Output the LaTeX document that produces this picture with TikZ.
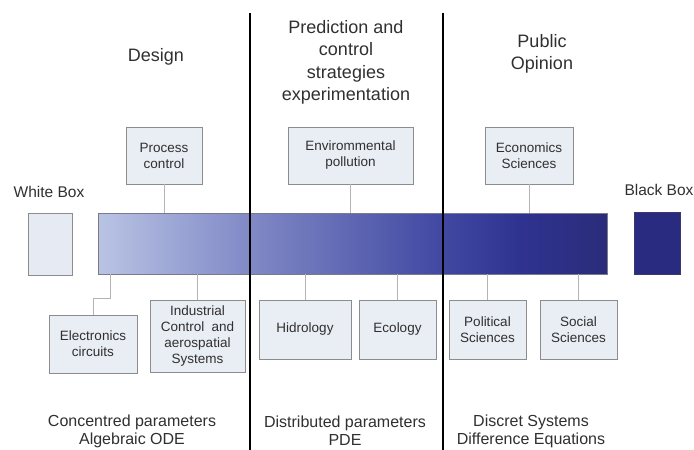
\documentclass[tikz,border=0pt]{standalone}
\usepackage{fontspec}
\setmainfont{Liberation Sans}
\usetikzlibrary{shadows}
\definecolor{boxfill}{HTML}{E9EDF4}
\definecolor{boxline}{HTML}{8C8C8C}
\definecolor{txt}{HTML}{303030}
\definecolor{linkc}{HTML}{B4B4B4}
\definecolor{barline}{HTML}{7A7A8A}
\definecolor{wbfill}{HTML}{E6EAF3}
\definecolor{bbfill}{HTML}{292B80}
\definecolor{bbline}{HTML}{3A3A6A}
\definecolor{cA}{HTML}{B9C4E4}
\definecolor{cB}{HTML}{8189C6}
\definecolor{cC}{HTML}{4048A2}
\definecolor{cD}{HTML}{2F3390}
\definecolor{cE}{HTML}{2A2C7A}
\pgfdeclarehorizontalshading{barshade}{100bp}{color(0bp)=(cA); color(25bp)=(cA); color(39.9bp)=(cB); color(58.8bp)=(cC); color(66.3bp)=(cD); color(75bp)=(cE); color(100bp)=(cE)}
\begin{document}
\begin{tikzpicture}[x=1pt,y=-1pt,
  catbox/.style={draw=boxline, line width=0.9pt, fill=boxfill, inner sep=0pt, align=center,
    font=\fontsize{13.5}{16}\selectfont, text=txt,
    drop shadow={shadow xshift=1.2pt, shadow yshift=-1.2pt, opacity=0.25}},
  title/.style={font=\fontsize{18}{22.5}\selectfont, text=txt, align=center},
  foot/.style={font=\fontsize{16}{18}\selectfont, text=txt, align=center},
  sidelbl/.style={font=\fontsize{15.5}{18}\selectfont, text=txt},
  link/.style={draw=linkc, line width=0.8pt},
  divider/.style={draw=black, line width=1.7pt}]
\useasboundingbox (0,0) rectangle (694,450);
\fill[white] (0,0) rectangle (694,450);

% titles
\node[title] (tdesign) at (156,57) {Design};
\node[title] (tpred) at (346,62.5) {Prediction and\\control\\strategies\\experimentation};
\node[title] (tpub) at (542,54) {Public\\Opinion};

% side labels
\node[sidelbl] (lwhite) at (49,192) {White Box};
\node[sidelbl] (lblack) at (659,190) {Black Box};

% main bar
\node[draw=barline, line width=0.8pt, shade, shading=barshade, minimum width=509pt, minimum height=61pt, inner sep=0pt] (bar) at (352.5,243.5) {};

% white / black boxes
\node[draw=boxline, line width=0.9pt, fill=wbfill, minimum width=44pt, minimum height=62pt, inner sep=0pt] (wbox) at (50,244) {};
\node[draw=bbline, line width=0.9pt, fill=bbfill, minimum width=46pt, minimum height=62pt, inner sep=0pt] (bbox) at (657,243.5) {};

% category boxes
\node[catbox, minimum width=76pt, minimum height=57pt] (pc) at (164,155.5) {Process\\control};
\node[catbox, minimum width=88pt, minimum height=58pt] (ec) at (93,344) {Electronics\\circuits};
\node[catbox, minimum width=95pt, minimum height=72pt] (ic) at (197.5,336) {Industrial\\Control\hspace{0.55em}and\\aerospatial\\Systems};
\node[catbox, minimum width=125pt, minimum height=57pt] (ep) at (350.5,155.5) {Envirommental\\pollution};
\node[catbox, minimum width=92pt, minimum height=59pt] (hi) at (305,329.5) {Hidrology};
\node[catbox, minimum width=77pt, minimum height=59pt] (eco) at (397.5,329.5) {Ecology};
\node[catbox, minimum width=88pt, minimum height=57pt] (es) at (529,155.5) {Economics\\Sciences};
\node[catbox, minimum width=77pt, minimum height=59pt] (ps) at (487.5,329.5) {Political\\Sciences};
\node[catbox, minimum width=77pt, minimum height=59pt] (ss) at (578.5,329.5) {Social\\Sciences};

% connectors
\draw[link] (pc.south) -- (pc.south |- bar.north);
\draw[link] (ep.south) -- (ep.south |- bar.north);
\draw[link] (es.south) -- (es.south |- bar.north);
\coordinate (ebend) at (110,298);
\draw[link] (ebend |- bar.south) -- (ebend) -| (ec.north);
\draw[link] (ic.north |- bar.south) -- (ic.north);
\draw[link] (hi.north |- bar.south) -- (hi.north);
\draw[link] (eco.north |- bar.south) -- (eco.north);
\draw[link] (ps.north |- bar.south) -- (ps.north);
\draw[link] (ss.north |- bar.south) -- (ss.north);

% dividers
\coordinate (d1t) at (250,13);
\coordinate (d1b) at (250,450);
\coordinate (d2t) at (443,13);
\coordinate (d2b) at (443,450);
\draw[divider] (d1t) -- (d1b);
\draw[divider] (d2t) -- (d2b);

% footers
\node[foot] (f1) at (132,431) {Concentred parameters\\Algebraic ODE};
\node[foot] (f2) at (345,431) {Distributed parameters\\PDE};
\node[foot] (f3) at (531,431) {Discret Systems\\Difference Equations};
\end{tikzpicture}
\end{document}
